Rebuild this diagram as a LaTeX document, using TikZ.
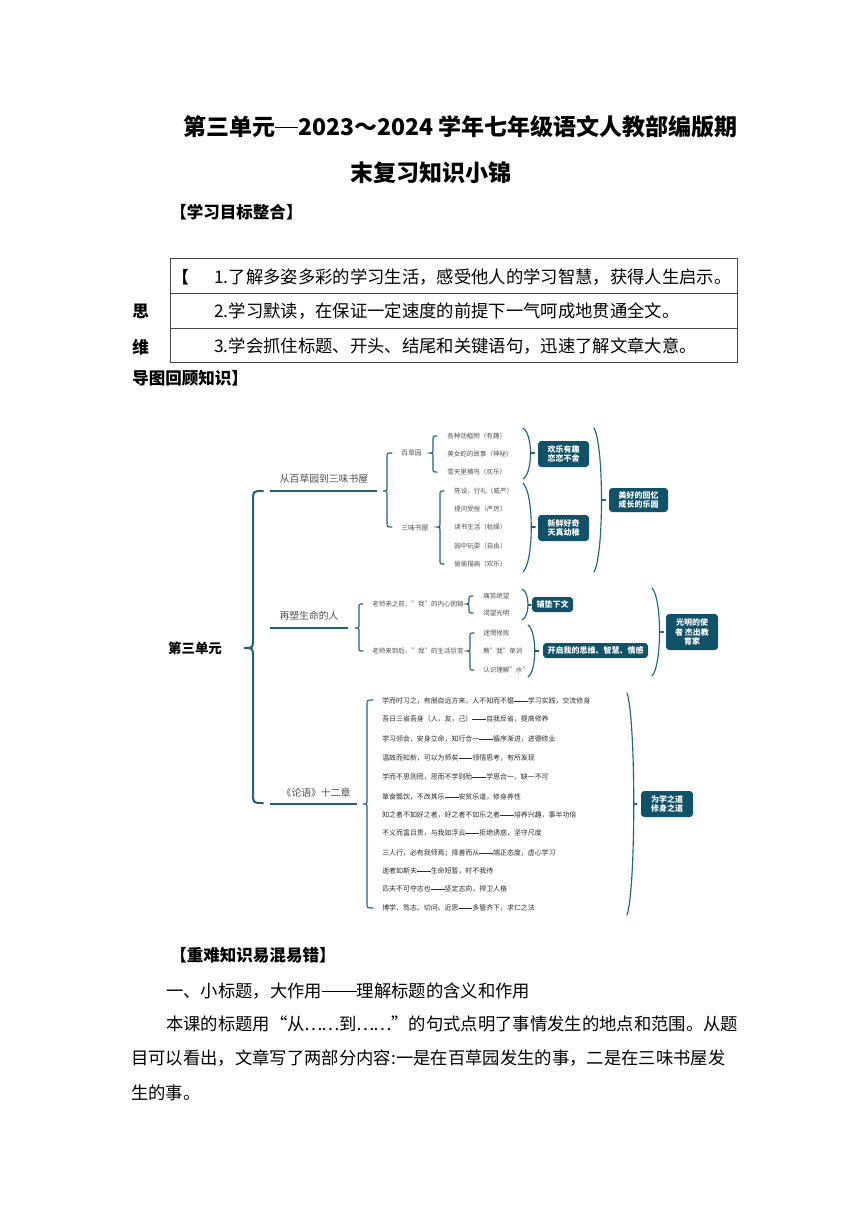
\documentclass[tikz,border=0pt]{standalone}
\usepackage{fontspec}
\setmainfont{Noto Sans CJK SC}
\definecolor{tl}{RGB}{36,96,118}
\definecolor{tb}{RGB}{17,82,104}
\definecolor{gt}{RGB}{80,80,80}
\definecolor{dt}{RGB}{45,45,45}
\definecolor{rule}{RGB}{70,70,70}
\newcommand{\zdash}[1][2]{\makebox[#1em]{\rule[0.33em]{#1em}{0.06em}}}
\newcommand{\zell}{\makebox[1em]{…}\makebox[1em]{…}}
% left-facing brace: style, x, ytop, ybot, ymid, hook, tip
\newcommand{\BraceL}[7]{%
  \draw[#1] ({#2+#6},#3) .. controls (#2,#3) .. (#2,{#3+#6}) -- (#2,{#5-#7})
    .. controls (#2,#5) .. ({#2-#7},#5) .. controls (#2,#5) .. (#2,{#5+#7})
    -- (#2,{#4-#6}) .. controls (#2,#4) .. ({#2+#6},#4);}
% right-facing bracket: style, x, ytop, ybot, ymid, bulge, tick
\newcommand{\BraceR}[7]{%
  \draw[#1] (#2,#3) .. controls ({#2+#6},{#3+0.12*(#4-#3)}) and ({#2+#6},{#4-0.12*(#4-#3)}) .. (#2,#4);
  \draw[#1] ({#2+0.75*#6},#5) -- ++(#7,0);}
\begin{document}
\begin{tikzpicture}[x=0.75pt,y=-0.75pt,
  brc/.style={draw=tl,line width=0.85pt,line cap=round},
  bbrc/.style={draw=tl,line width=1.5pt,line cap=round},
  lnk/.style={draw=tl,line width=1.5pt},
  sm/.style={anchor=west,inner sep=0,text=gt,font=\fontsize{4.9}{5.5}\selectfont},
  lz/.style={anchor=west,inner sep=0,text=dt,font=\fontsize{5.2}{6}\selectfont},
  brl/.style={inner sep=0,text=gt,font=\fontsize{7.35}{8}\selectfont},
  bx/.style={fill=tb,rounded corners=2.5pt,text=white,align=center,inner sep=0,font=\bfseries\fontsize{6}{7.2}\selectfont},
  hd/.style={anchor=west,inner sep=0,font=\bfseries\fontsize{12.4}{14}\selectfont},
  ttl/.style={anchor=west,inner sep=0,font=\bfseries\fontsize{17.25}{20}\selectfont},
  bd/.style={anchor=west,inner sep=0,font=\fontsize{13}{15}\selectfont},
  tbl/.style={draw=rule,line width=0.6pt},
]
\useasboundingbox[fill=white] (0,0) rectangle (860,1216);

% ---------- title ----------
\node[ttl] (t1) at (183,127) {第三单元\zdash[1]2023～2024 学年七年级语文人教部编版期};
\node[ttl] (t2) at (350,173) {末复习知识小锦};
\node[hd] (h1) at (170,212) {【学习目标整合】};

% ---------- table ----------
\draw[tbl] (170,258) rectangle (737,362);
\draw[tbl] (170,293) -- (737,293);
\draw[tbl] (170,328) -- (737,328);
\node[hd] (hb) at (172,277) {【};
\node[bd] (r1) at (214,277) {1.了解多姿多彩的学习生活，感受他人的学习智慧，获得人生启示。};
\node[bd] (r2) at (214,311) {2.学习默读，在保证一定速度的前提下一气呵成地贯通全文。};
\node[bd] (r3) at (214,346) {3.学会抓住标题、开头、结尾和关键语句，迅速了解文章大意。};
\node[hd] (s1) at (132,311) {思};
\node[hd] (s2) at (132,347) {维};
\node[hd] (s3) at (132,378) {导图回顾知识】};

% ---------- mind map ----------
\node[inner sep=0,font=\bfseries\fontsize{10.1}{11}\selectfont] (root) at (195,648) {第三单元};
\BraceL{bbrc}{253}{491}{803}{648}{10}{9}

% branch 1
\coordinate (b1s) at (270,491); \coordinate (b1e) at (377,491);
\draw[lnk] (b1s) -- (b1e);
\node[brl] (b1) at (324,479) {从百草园到三味书屋};
\BraceL{brc}{387}{453}{527}{491}{5}{4}
\node[sm,font=\fontsize{5.1}{6}\selectfont] (bc) at (401,453) {百草园};
\node[sm,font=\fontsize{5.1}{6}\selectfont] (sw) at (401,528) {三味书屋};
\BraceL{brc}{433}{436}{472}{453}{4}{3}
\node[sm] (bc1) at (447,436) {各种动植物（有趣）};
\node[sm] (bc2) at (447,454) {美女蛇的故事（神秘）};
\node[sm] (bc3) at (447,472) {雪天里捕鸟（欢乐）};
\BraceL{brc}{440}{491}{564}{527}{4}{3}
\node[sm] (sw1) at (454,491) {陈设、行礼（威严）};
\node[sm] (sw2) at (454,509) {提问受挫（严厉）};
\node[sm] (sw3) at (454,527) {读书生活（枯燥）};
\node[sm] (sw4) at (454,546) {园中玩耍（自由）};
\node[sm] (sw5) at (454,564) {偷偷描画（欢乐）};
\BraceR{brc}{523}{428}{479}{453}{10}{4}
\BraceR{brc}{523}{483}{572}{527}{11}{4}
\node[bx,minimum width=38.25pt,minimum height=19.5pt] (x1) at (563.5,454) {欢乐有趣\\恋恋不舍};
\node[bx,minimum width=38.25pt,minimum height=19.5pt] (x2) at (563.5,528) {新鲜好奇\\天真幼稚};
\BraceR{brc}{594}{428}{572}{500}{10}{4}
\node[bx,minimum width=44.25pt,minimum height=18pt] (x3) at (638.5,500) {美好的回忆\\成长的乐园};

% branch 2
\coordinate (b2s) at (270,628); \coordinate (b2e) at (348,628);
\draw[lnk] (b2s) -- (b2e);
\node[brl] (b2) at (309,616) {再塑生命的人};
\BraceL{brc}{359}{604}{651}{628}{4}{4}
\node[sm] (q1) at (372,604) {老师来之前，"我"的内心困顿};
\node[sm] (q2) at (372,651) {老师来到后，"我"的生活巨变};
\BraceL{brc}{469}{596}{613}{604}{4}{3}
\node[sm] (q11) at (483,596) {痛苦绝望};
\node[sm] (q12) at (483,613) {渴望光明};
\BraceL{brc}{470}{633}{670}{651}{4}{3}
\node[sm] (q21) at (483,633) {迷惘挫败};
\node[sm] (q22) at (483,651) {教"我"单词};
\node[sm] (q23) at (483,670) {认识理解"水"};
\BraceR{brc}{522}{589}{620}{605}{8}{3}
\node[bx,minimum width=30.75pt,minimum height=11.25pt] (x4) at (552.5,604.5) {铺垫下文};
\BraceR{brc}{528}{625}{677}{651}{9}{4}
\node[bx,minimum width=78.75pt,minimum height=11.25pt] (x5) at (595.5,650.5) {开启我的思维、智慧、情感};
\BraceR{brc}{652}{588}{676}{632}{10}{4}
\node[bx,minimum width=39pt,minimum height=27pt] (x6) at (692,632) {光明的使\\者 杰出教\\育家};

% branch 3
\coordinate (b3s) at (270,804); \coordinate (b3e) at (357,804);
\draw[lnk] (b3s) -- (b3e);
\node[brl] (b3) at (316,793) {《论语》十二章};
\BraceL{brc}{367}{700}{908}{804}{6}{4}
\node[lz] (l1) at (382,701) {学而时习之，有朋自远方来，人不知而不愠\zdash 学习实践，交流修身};
\node[lz] (l2) at (382,719) {吾日三省吾身（人，友，己）\zdash 自我反省，提高修养};
\node[lz] (l3) at (382,739) {学习领会，安身立命，知行合一\zdash 循序渐进，进德修业};
\node[lz] (l4) at (382,758) {温故而知新，可以为师矣\zdash 领悟思考，有所发现};
\node[lz] (l5) at (382,777) {学而不思则罔，思而不学则殆\zdash 学思合一，缺一不可};
\node[lz] (l6) at (382,797) {箪食瓢饮，不改其乐\zdash 安贫乐道，修身养性};
\node[lz] (l7) at (382,815) {知之者不如好之者，好之者不如乐之者\zdash 培养兴趣，事半功倍};
\node[lz] (l8) at (382,833) {不义而富且贵，与我如浮云\zdash 拒绝诱惑，坚守尺度};
\node[lz] (l9) at (382,853) {三人行，必有我师焉；择善而从\zdash 端正态度，虚心学习};
\node[lz] (l10) at (382,871) {逝者如斯夫\zdash 生命短暂，时不我待};
\node[lz] (l11) at (382,889) {匹夫不可夺志也\zdash 坚定志向，捍卫人格};
\node[lz] (l12) at (382,908) {博学、笃志、切问、近思\zdash 多管齐下，求仁之法};
\BraceR{brc}{627}{693}{915}{804}{9}{3}
\node[bx,minimum width=39pt,minimum height=19.5pt] (x7) at (667,804) {为学之道\\修身之道};

% ---------- lower text ----------
\node[hd] (h2) at (170,955) {【重难知识易混易错】};
\node[bd] (p1) at (166,991) {一、小标题，大作用\zdash 理解标题的含义和作用};
\node[bd] (p2) at (166,1024) {本课的标题用“从\zell 到\zell ”的句式点明了事情发生的地点和范围。从题};
\node[bd] (p3) at (131,1058) {目可以看出，文章写了两部分内容:一是在百草园发生的事，二是在三味书屋发};
\node[bd] (p4) at (131,1093) {生的事。};
\end{tikzpicture}
\end{document}
